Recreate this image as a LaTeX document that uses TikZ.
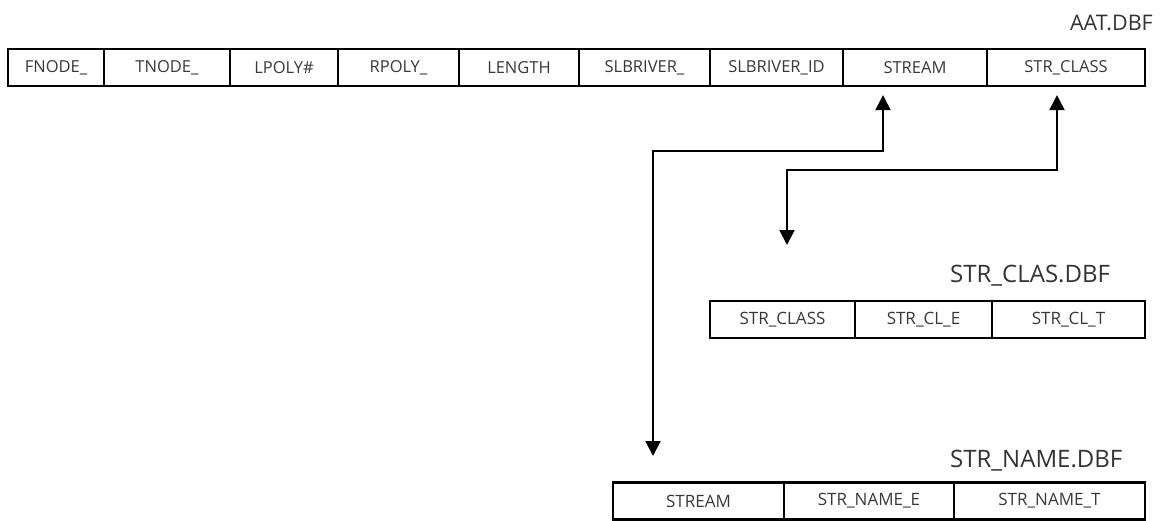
\documentclass[tikz,border=0pt]{standalone}
\usepackage{fontspec}
\setmainfont{Open Sans}
\usetikzlibrary{arrows.meta,calc}
\tikzset{
  cell/.style={draw=black, line width=2.2pt, inner sep=0pt, minimum height=37pt,
    font=\fontsize{16.5}{18}\selectfont, text=black!78},
  lowcell/.style={cell, font=\fontsize{17}{19}\selectfont},
  tabletitle/.style={inner sep=0pt, font=\fontsize{21.5}{24}\selectfont, text=black!80},
  lowtitle/.style={tabletitle, font=\fontsize{24}{27}\selectfont},
  conn/.style={line width=2pt, {Triangle[width=15pt,length=15pt]}-{Triangle[width=15pt,length=15pt]}}
}
\newcommand{\cellat}[6][cell]{\node[#1, minimum width={(#4-#3)*1pt}] (#2) at ({(#3+#4)/2},#5) {#6};}
\begin{document}
\begin{tikzpicture}[x=1pt,y=-1pt]
\useasboundingbox (0,0) rectangle (1168,520);
% AAT.DBF
\node[tabletitle, anchor=base east] (tAAT) at (1153,30) {AAT.DBF};
\cellat{aFnode}{8}{104}{67.5}{FNODE\_}
\cellat{aTnode}{104}{230}{67.5}{TNODE\_}
\cellat{aLpoly}{230}{338}{67.5}{LPOLY\#}
\cellat{aRpoly}{338}{459}{67.5}{RPOLY\_}
\cellat{aLength}{459}{579}{67.5}{LENGTH}
\cellat{aSlb}{579}{710}{67.5}{SLBRIVER\_}
\cellat{aSlbId}{710}{843}{67.5}{SLBRIVER\_ID}
\cellat{aStream}{843}{987}{67.5}{STREAM}
\cellat{aStrClass}{987}{1145}{67.5}{STR\_CLASS}
% STR_CLAS.DBF
\node[lowtitle, anchor=base west] (tClas) at (950,282) {STR\_CLAS.DBF};
\cellat[lowcell]{cClass}{710}{855}{319.5}{STR\_CLASS}
\cellat[lowcell]{cE}{855}{992}{319.5}{STR\_CL\_E}
\cellat[lowcell]{cT}{992}{1145}{319.5}{STR\_CL\_T}
% STR_NAME.DBF
\node[lowtitle, anchor=base west] (tName) at (950,467) {STR\_NAME.DBF};
\cellat[lowcell]{nStream}{613}{784}{501}{STREAM}
\cellat[lowcell]{nE}{784}{954}{501}{STR\_NAME\_E}
\cellat[lowcell]{nT}{954}{1145}{501}{STR\_NAME\_T}
% connectors
\coordinate (endName) at (653,456);
\coordinate (endClas) at (787,245);
\draw[conn] ([shift={(-32,8)}]aStream.south) -- ++(0,56) -| (endName);
\draw[conn] ([shift={(-9,8)}]aStrClass.south) -- ++(0,75) -| (endClas);
\end{tikzpicture}
\end{document}
